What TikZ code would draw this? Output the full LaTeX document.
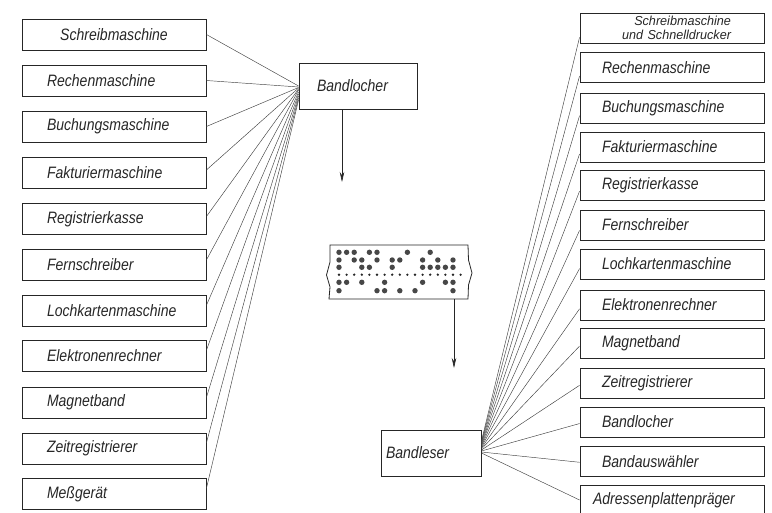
\documentclass[tikz,border=0pt]{standalone}
\usepackage{fontspec}
\newfontfamily\lbl{Liberation Sans}[FakeStretch=0.85]
\newfontfamily\lblw{Liberation Sans}[FakeStretch=0.97]
\usetikzlibrary{arrows.meta,calc}
\begin{document}
\begin{tikzpicture}[x=1pt,y=-1pt,
  box/.style={draw=black!85, line width=0.9pt, minimum height=31pt, inner ysep=0pt,
    font=\lbl\itshape\fontsize{16.5}{18}\selectfont, align=left, text=black!85},
  lbox/.style={box, inner xsep=25pt, text width=134pt},
  rbox/.style={box, minimum height=30pt, inner xsep=22pt, text width=140pt},
  conn/.style={line width=0.45pt, draw=black!75},
  arr/.style={line width=0.6pt, draw=black!85, -{Stealth[length=10pt,width=4.5pt]}},
  hole/.style={fill=black!72},
]
\useasboundingbox (0,0) rectangle (772,512);
% left column
\node[lbox, align=center] (L0) at (114,34.5) {Schreibmaschine};
\node[lbox] (L1) at (114,80.5) {Rechenmaschine};
\node[lbox] (L2) at (114,126.5) {Buchungsmaschine};
\node[lbox] (L3) at (114,172.5) {Fakturiermaschine};
\node[lbox] (L4) at (114,219) {Registrierkasse};
\node[lbox] (L5) at (114,265) {Fernschreiber};
\node[lbox] (L6) at (114,311) {Lochkartenmaschine};
\node[lbox] (L7) at (114,356) {Elektronenrechner};
\node[lbox] (L8) at (114,402.5) {Magnetband};
\node[lbox] (L9) at (114,448.5) {Zeitregistrierer};
\node[lbox] (L10) at (114,494) {Meßgerät};
% centre
\node[box, minimum width=118pt, minimum height=46pt, inner xsep=18pt, text width=82pt] (bl) at (358,86) {Bandlocher};
\node[box, minimum width=100pt, minimum height=46pt, inner xsep=5pt, text width=90pt] (ble) at (431,453) {Bandleser};
% right column
\node[rbox, inner xsep=33pt, text width=118pt, align=right,
  font=\lblw\itshape\fontsize{13}{13.5}\selectfont] (R0) at (672,28) {Schreibmaschine\\und Schnelldrucker};
\node[rbox] (R1) at (672,67.5) {Rechenmaschine};
\node[rbox] (R2) at (672,108) {Buchungsmaschine};
\node[rbox] (R3) at (672,147) {Fakturiermaschine};
\node[rbox] (R4) at (672,185) {Registrierkasse};
\node[rbox] (R5) at (672,225) {Fernschreiber};
\node[rbox] (R6) at (672,264) {Lochkartenmaschine};
\node[rbox] (R7) at (672,305) {Elektronenrechner};
\node[rbox] (R8) at (672,343) {Magnetband};
\node[rbox] (R9) at (672,383) {Zeitregistrierer};
\node[rbox] (R10) at (672,422) {Bandlocher};
\node[rbox] (R11) at (672,461.5) {Bandauswähler};
\node[rbox, inner xsep=13pt, text width=158pt] (R12) at (672,500) {Adressenplattenpräger};
% left fan
\foreach \i/\f/\e in {0/0.5/0, 1/0.5/1, 2/0.5/1.5, 3/0.42/2, 4/0.42/3, 5/0.34/4,
    6/0.32/6, 7/0.32/8, 8/0.34/10, 9/0.32/12, 10/0.32/14}
  \draw[conn] ($(L\i.north east)!\f!(L\i.south east)$) -- ([yshift=-\e pt]bl.west);
% right fan
\foreach \i [evaluate=\i as \f using 0.8-0.025*\i, evaluate=\i as \s using 12-\i] in {0,...,12}
  \draw[conn] ([yshift=\s pt]ble.east) -- ($(R\i.north west)!\f!(R\i.south west)$);
% arrows
\coordinate (a1) at (342,182);
\draw[arr] (bl.south -| a1) -- (a1);
\coordinate (a2s) at (454,299);
\coordinate (a2e) at (454,368);
\draw[arr] (a2s) -- (a2e);
% punched tape
\draw[line width=0.8pt, draw=black!85] (330,245) -- (468,245) -- (468.5,260) -- (472,273)
  -- (468.5,285) -- (468,299) -- (329,299) -- (330,287) -- (326.5,275) -- (330,262) -- cycle;
\foreach \r/\cols in {252.3/{1,2,3,5,6,10,13}, 260/{1,3,4,6,8,9,12,14,16},
    267.3/{1,4,5,8,12,13,14,15,16}, 282.3/{1,2,4,7,12,15,16}, 290.7/{1,6,7,9,11,16}}
  \foreach \c in \cols
    \fill[hole] ({339+(\c-1)*7.6},\r) circle (2.7pt);
\foreach \c in {1,...,17}
  \fill[black!85] ({339+(\c-1)*7.6},274.7) circle (1.3pt);
\end{tikzpicture}
\end{document}
